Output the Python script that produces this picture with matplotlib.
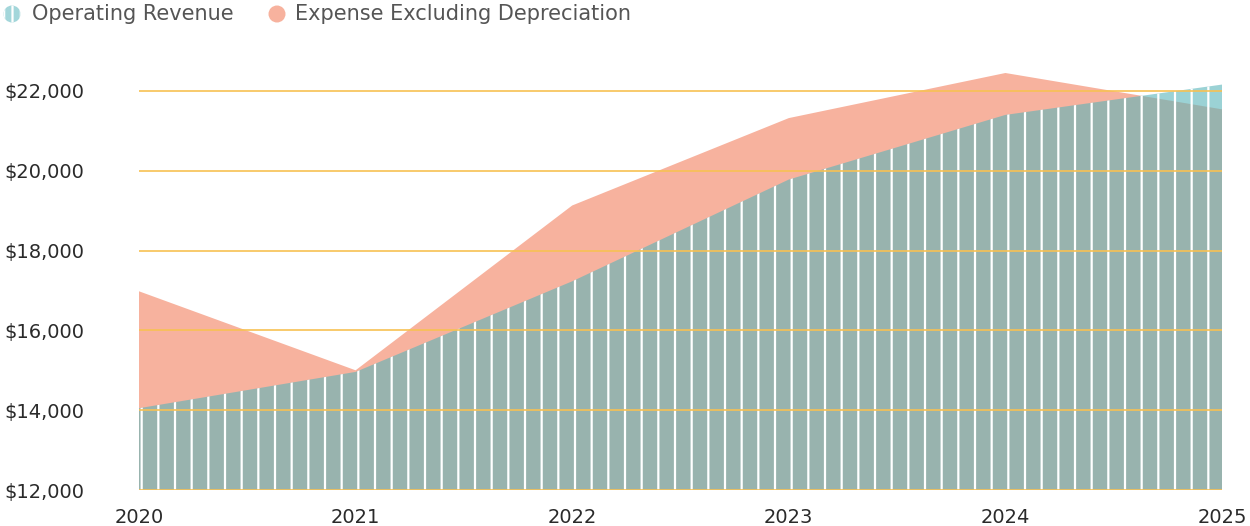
import numpy as np
import matplotlib.pyplot as plt
from matplotlib.patches import Circle
from matplotlib.ticker import FuncFormatter

years = [2020, 2021, 2022, 2023, 2024, 2025]
operating_revenue = [14050, 14960, 17230, 19780, 21400, 22160]
expense_excl_depr = [16980, 15000, 19130, 21320, 22450, 21540]
y_ticks = [12000, 14000, 16000, 18000, 20000, 22000]

plt.rcParams['font.family'] = ['DejaVu Sans']
plt.rcParams['hatch.linewidth'] = 1.6

fig = plt.figure(figsize=(12.5, 5.26), dpi=100)
ax = fig.add_axes([0.1112, 0.0684, 0.8664, 0.8042])

ax.fill_between(years, 12000, expense_excl_depr, facecolor='#f7b29e', edgecolor='none', lw=0, zorder=1)
ax.fill_between(years, 12000, operating_revenue, facecolor=(0.35, 0.71, 0.73, 0.6),
                edgecolor='white', hatch='|', lw=0, zorder=2)

for y in y_ticks:
    ax.axhline(y, color='#f7c153', lw=1.2, zorder=3)

ax.set_xlim(2020, 2025)
ax.set_ylim(12000, 22600)
ax.set_yticks(y_ticks)
ax.set_xticks(years)
ax.yaxis.set_major_formatter(FuncFormatter(lambda v, p: f"${v:,.0f}"))
for s in ax.spines.values():
    s.set_visible(False)
ax.tick_params(length=0, labelsize=14, labelcolor='#2a2a2a')
ax.tick_params(axis='y', pad=97)
ax.tick_params(axis='x', pad=13)
for lab in ax.get_yticklabels():
    lab.set_horizontalalignment('left')

# legend
leg1 = Circle((0.12, 5.12), 0.085, transform=fig.dpi_scale_trans, facecolor='#a3d6da',
              edgecolor='white', hatch='||', lw=0)
leg2 = Circle((2.77, 5.12), 0.085, transform=fig.dpi_scale_trans, facecolor='#f7b29e',
              edgecolor='none', lw=0)
fig.patches.extend([leg1, leg2])
fig.text(0.32 / 12.5, 5.12 / 5.26, 'Operating Revenue', fontsize=15, color='#555555', va='center')
fig.text(2.95 / 12.5, 5.12 / 5.26, 'Expense Excluding Depreciation', fontsize=15, color='#555555', va='center')

fig.savefig('out.png', dpi=100)
